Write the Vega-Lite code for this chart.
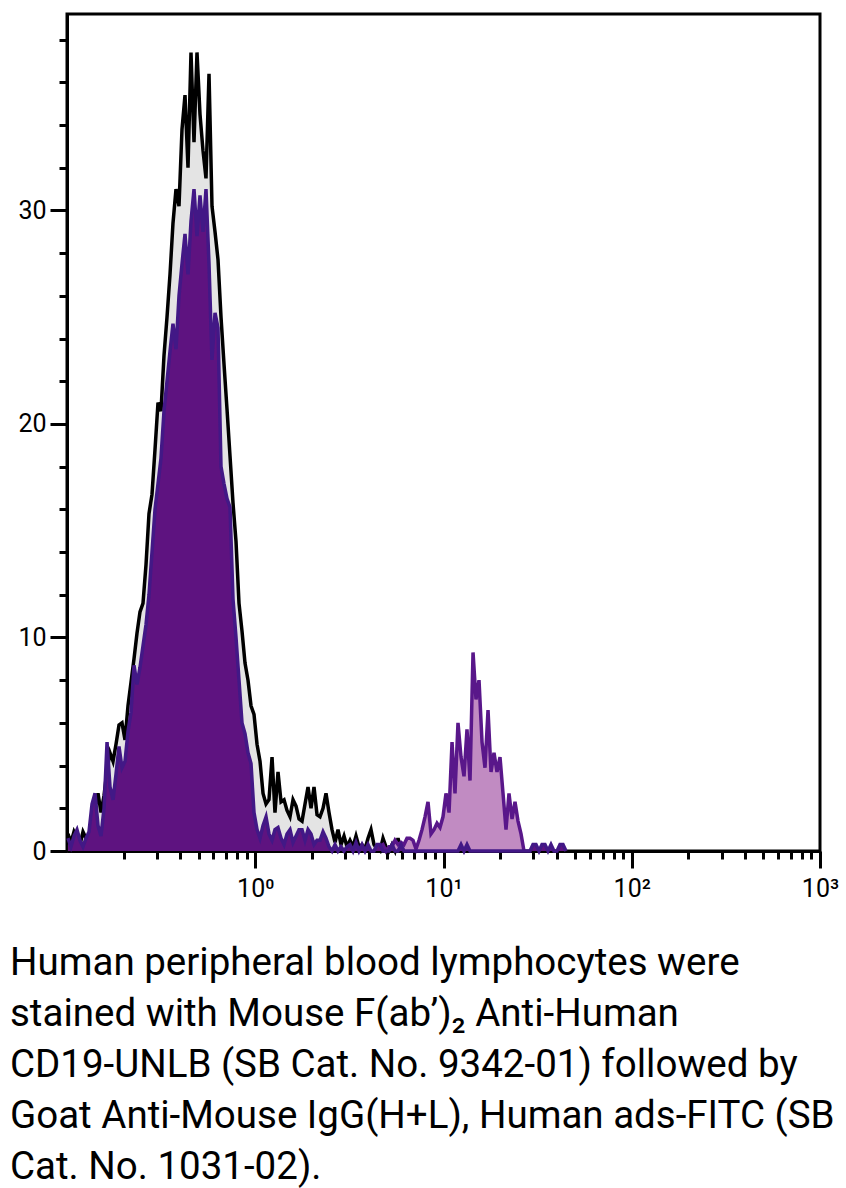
{
  "$schema": "https://vega.github.io/schema/vega-lite/v6.json",
  "width": 753,
  "height": 837,
  "autosize": {"type": "none"},
  "padding": {"left": 67, "top": 14, "right": 26, "bottom": 337},
  "background": "white",
  "config": {
    "view": {"stroke": "black", "strokeWidth": 3},
    "axis": {"grid": false, "title": null, "domainColor": "black", "domainWidth": 3, "tickColor": "black", "tickWidth": 3, "labelColor": "black", "labelFont": "Roboto", "labelFontSize": 25, "zindex": 1}
  },
  "title": {
    "text": [
      "Human peripheral blood lymphocytes were",
      "stained with Mouse F(ab’)₂ Anti-Human",
      "CD19-UNLB (SB Cat. No. 9342-01) followed by",
      "Goat Anti-Mouse IgG(H+L), Human ads-FITC (SB",
      "Cat. No. 1031-02)."
    ],
    "orient": "bottom",
    "anchor": "start",
    "frame": "group",
    "dx": -57,
    "offset": 44,
    "font": "Roboto",
    "fontSize": 38.5,
    "fontWeight": "normal",
    "lineHeight": 51,
    "color": "black",
    "baseline": "top"
  },
  "data": {
    "values": [
      {"x": 0.1012, "c": 0.8, "n": 0.6},
      {"x": 0.1050, "c": 0.4, "n": 0.2},
      {"x": 0.1089, "c": 0.9, "n": 0.7},
      {"x": 0.1130, "c": 0.6, "n": 1.0},
      {"x": 0.1172, "c": 0.3, "n": 0.5},
      {"x": 0.1216, "c": 0.9, "n": 0.2},
      {"x": 0.1262, "c": 0.6, "n": 0.6},
      {"x": 0.1309, "c": 0.3, "n": 0.9},
      {"x": 0.1358, "c": 1.2, "n": 2.2},
      {"x": 0.1409, "c": 2.0, "n": 2.7},
      {"x": 0.1461, "c": 2.7, "n": 1.2},
      {"x": 0.1516, "c": 1.8, "n": 0.7},
      {"x": 0.1573, "c": 2.6, "n": 2.0},
      {"x": 0.1632, "c": 3.8, "n": 5.1},
      {"x": 0.1692, "c": 4.6, "n": 3.0},
      {"x": 0.1756, "c": 4.2, "n": 2.4},
      {"x": 0.1821, "c": 5.0, "n": 3.6},
      {"x": 0.1889, "c": 5.9, "n": 4.9},
      {"x": 0.1960, "c": 6.0, "n": 3.9},
      {"x": 0.2033, "c": 5.2, "n": 4.2},
      {"x": 0.2109, "c": 6.8, "n": 5.6},
      {"x": 0.2188, "c": 7.9, "n": 6.5},
      {"x": 0.2270, "c": 9.0, "n": 8.7},
      {"x": 0.2354, "c": 10.2, "n": 7.8},
      {"x": 0.2442, "c": 11.2, "n": 8.6},
      {"x": 0.2533, "c": 11.6, "n": 9.6},
      {"x": 0.2628, "c": 13.4, "n": 10.6},
      {"x": 0.2726, "c": 15.8, "n": 12.0},
      {"x": 0.2828, "c": 16.7, "n": 14.0},
      {"x": 0.2934, "c": 18.8, "n": 16.0},
      {"x": 0.3044, "c": 21.0, "n": 17.2},
      {"x": 0.3157, "c": 20.6, "n": 18.4},
      {"x": 0.3275, "c": 23.2, "n": 20.6},
      {"x": 0.3398, "c": 25.0, "n": 22.0},
      {"x": 0.3525, "c": 27.0, "n": 23.4},
      {"x": 0.3656, "c": 29.4, "n": 24.7},
      {"x": 0.3793, "c": 31.0, "n": 23.5},
      {"x": 0.3935, "c": 30.2, "n": 26.0},
      {"x": 0.4082, "c": 33.8, "n": 27.5},
      {"x": 0.4235, "c": 35.4, "n": 28.9},
      {"x": 0.4393, "c": 32.0, "n": 27.0},
      {"x": 0.4557, "c": 37.4, "n": 29.5},
      {"x": 0.4728, "c": 33.2, "n": 31.0},
      {"x": 0.4904, "c": 37.4, "n": 28.8},
      {"x": 0.5088, "c": 34.5, "n": 30.7},
      {"x": 0.5278, "c": 32.8, "n": 29.0},
      {"x": 0.5475, "c": 31.5, "n": 31.0},
      {"x": 0.5680, "c": 36.4, "n": 27.5},
      {"x": 0.5892, "c": 30.2, "n": 23.0},
      {"x": 0.6113, "c": 29.0, "n": 25.2},
      {"x": 0.6341, "c": 27.7, "n": 24.5},
      {"x": 0.6578, "c": 25.0, "n": 18.0},
      {"x": 0.6824, "c": 22.8, "n": 17.2},
      {"x": 0.7079, "c": 20.7, "n": 16.5},
      {"x": 0.7344, "c": 18.5, "n": 16.1},
      {"x": 0.7618, "c": 16.3, "n": 11.8},
      {"x": 0.7903, "c": 14.5, "n": 10.0},
      {"x": 0.8199, "c": 11.6, "n": 8.0},
      {"x": 0.8505, "c": 10.3, "n": 6.0},
      {"x": 0.8823, "c": 8.8, "n": 5.5},
      {"x": 0.9153, "c": 8.0, "n": 4.6},
      {"x": 0.9495, "c": 6.8, "n": 4.1},
      {"x": 0.9850, "c": 6.4, "n": 1.8},
      {"x": 1.022, "c": 5.0, "n": 1.0},
      {"x": 1.060, "c": 4.2, "n": 0.6},
      {"x": 1.100, "c": 2.7, "n": 1.2},
      {"x": 1.141, "c": 2.2, "n": 1.6},
      {"x": 1.183, "c": 2.4, "n": 0.8},
      {"x": 1.228, "c": 4.4, "n": 0.5},
      {"x": 1.273, "c": 1.8, "n": 1.0},
      {"x": 1.321, "c": 3.7, "n": 1.1},
      {"x": 1.371, "c": 2.3, "n": 0.6},
      {"x": 1.422, "c": 2.4, "n": 0.3},
      {"x": 1.475, "c": 1.9, "n": 0.8},
      {"x": 1.530, "c": 1.6, "n": 1.0},
      {"x": 1.587, "c": 2.4, "n": 0.4},
      {"x": 1.647, "c": 2.1, "n": 0.7},
      {"x": 1.708, "c": 1.5, "n": 1.0},
      {"x": 1.772, "c": 1.4, "n": 1.0},
      {"x": 1.838, "c": 2.2, "n": 0.5},
      {"x": 1.907, "c": 3.0, "n": 1.0},
      {"x": 1.978, "c": 2.0, "n": 0.8},
      {"x": 2.052, "c": 3.0, "n": 0.3},
      {"x": 2.129, "c": 1.7, "n": 0.5},
      {"x": 2.208, "c": 1.6, "n": 0.5},
      {"x": 2.291, "c": 2.0, "n": 0.9},
      {"x": 2.376, "c": 2.7, "n": 0.6},
      {"x": 2.465, "c": 1.8, "n": 0.2},
      {"x": 2.557, "c": 1.0, "n": 0.0},
      {"x": 2.653, "c": 0.4, "n": 0.3},
      {"x": 2.752, "c": 1.0, "n": 0.0},
      {"x": 2.855, "c": 0.3, "n": 0.2},
      {"x": 2.962, "c": 0.7, "n": 0.0},
      {"x": 3.072, "c": 0.2, "n": 0.2},
      {"x": 3.187, "c": 0.5, "n": 0.3},
      {"x": 3.306, "c": 0.2, "n": 0.0},
      {"x": 3.430, "c": 0.7, "n": 0.4},
      {"x": 3.558, "c": 0.2, "n": 0.0},
      {"x": 3.691, "c": 0.3, "n": 0.3},
      {"x": 3.829, "c": 0.1, "n": 0.0},
      {"x": 3.972, "c": 0.6, "n": 0.3},
      {"x": 4.120, "c": 1.0, "n": 0.0},
      {"x": 4.274, "c": 0.3, "n": 0.0},
      {"x": 4.434, "c": 0.1, "n": 0.3},
      {"x": 4.600, "c": 0.0, "n": 0.3, "p": 0.2},
      {"x": 4.772, "c": 0.6, "n": 0.0, "p": 0.3},
      {"x": 4.950, "c": 0.2, "n": 0.0, "p": 0.0},
      {"x": 5.135, "c": 0.0, "n": 0.0, "p": 0.2},
      {"x": 5.327, "c": 0.3, "n": 0.3, "p": 0.2},
      {"x": 5.526, "c": 0.0, "n": 0.0, "p": 0.5},
      {"x": 5.733, "c": 0.6, "n": 0.0, "p": 0.3},
      {"x": 5.947, "c": 0.0, "n": 0.3, "p": 0.4},
      {"x": 6.169, "c": 0.0, "n": 0.0, "p": 0.3},
      {"x": 6.400, "n": 0.0, "p": 0.6},
      {"x": 6.639, "n": 0.0, "p": 0.6},
      {"x": 6.887, "n": 0.0, "p": 0.5},
      {"x": 7.145, "n": 0.0, "p": 0.1},
      {"x": 7.412, "n": 0.0, "p": 0.5},
      {"x": 7.689, "n": 0.0, "p": 1.0},
      {"x": 7.976, "n": 0.0, "p": 1.6},
      {"x": 8.274, "n": 0.0, "p": 2.3},
      {"x": 8.583, "n": 0.0, "p": 0.8},
      {"x": 8.904, "n": 0.0, "p": 1.0},
      {"x": 9.237, "n": 0.0, "p": 1.3},
      {"x": 9.582, "n": 0.0, "p": 1.1},
      {"x": 9.939, "n": 0.0, "p": 1.6},
      {"x": 10.31, "n": 0.0, "p": 2.7},
      {"x": 10.70, "n": 0.0, "p": 1.8},
      {"x": 11.10, "n": 0.0, "p": 5.1},
      {"x": 11.51, "n": 0.0, "p": 2.7},
      {"x": 11.94, "n": 0.0, "p": 6.0},
      {"x": 12.39, "n": 0.3, "p": 4.4},
      {"x": 12.85, "n": 0.0, "p": 3.5},
      {"x": 13.33, "n": 0.3, "p": 5.7},
      {"x": 13.83, "n": 0.0, "p": 3.3},
      {"x": 14.35, "n": 0.0, "p": 9.3},
      {"x": 14.88, "n": 0.0, "p": 7.1},
      {"x": 15.44, "n": 0.0, "p": 8.0},
      {"x": 16.02, "n": 0.0, "p": 5.1},
      {"x": 16.61, "n": 0.0, "p": 3.9},
      {"x": 17.24, "n": 0.0, "p": 6.6},
      {"x": 17.88, "n": 0.0, "p": 3.7},
      {"x": 18.55, "n": 0.0, "p": 4.6},
      {"x": 19.24, "n": 0.0, "p": 3.7},
      {"x": 19.96, "n": 0.0, "p": 4.4},
      {"x": 20.71, "n": 0.0, "p": 2.7},
      {"x": 21.48, "n": 0.0, "p": 1.0},
      {"x": 22.28, "n": 0.0, "p": 2.7},
      {"x": 23.12, "n": 0.0, "p": 1.5},
      {"x": 23.98, "n": 0.0, "p": 2.3},
      {"x": 24.88, "n": 0.0, "p": 1.4},
      {"x": 25.81, "n": 0.0, "p": 0.8},
      {"x": 26.77, "n": 0.0, "p": 0.0},
      {"x": 27.77, "n": 0.0},
      {"x": 28.81, "n": 0.0},
      {"x": 29.88, "n": 0.3},
      {"x": 31.00, "n": 0.3},
      {"x": 32.16, "n": 0.0},
      {"x": 33.36, "n": 0.3},
      {"x": 34.60, "n": 0.3},
      {"x": 35.90, "n": 0.0},
      {"x": 37.24, "n": 0.3},
      {"x": 38.63, "n": 0.0},
      {"x": 40.08, "n": 0.0},
      {"x": 41.57, "n": 0.3},
      {"x": 43.13, "n": 0.3},
      {"x": 44.75, "n": 0.0}
    ]
  },
  "layer": [
    {
      "mark": {"type": "area", "color": "#e4e4e4", "opacity": 1},
      "encoding": {
        "x": {"field": "x", "type": "quantitative", "scale": {"type": "log", "domain": [0.1, 1000], "nice": false},
          "axis": {"orient": "bottom", "values": [0.2, 0.3, 0.4, 0.5, 0.6, 0.7, 0.8, 0.9, 2, 3, 4, 5, 6, 7, 8, 9, 20, 30, 40, 50, 60, 70, 80, 90, 200, 300, 400, 500, 600, 700, 800, 900], "tickSize": 8, "labels": false}},
        "y": {"field": "c", "type": "quantitative", "scale": {"domain": [0, 39.2], "nice": false},
          "axis": {"orient": "left", "values": [2, 4, 6, 8, 12, 14, 16, 18, 22, 24, 26, 28, 32, 34, 36, 38], "tickSize": 8, "labels": false}}
      }
    },
    {
      "mark": {"type": "line", "color": "black", "strokeWidth": 3.5},
      "encoding": {
        "x": {"field": "x", "type": "quantitative", "scale": {"type": "log", "domain": [0.1, 1000], "nice": false},
          "axis": {"orient": "bottom", "values": [1, 10, 100, 1000], "tickSize": 17, "labelPadding": 8, "labelFlush": false, "labelOverlap": false,
            "labelExpr": "datum.value == 1 ? '10⁰' : datum.value == 10 ? '10¹' : datum.value == 100 ? '10²' : '10³'"}},
        "y": {"field": "c", "type": "quantitative", "scale": {"domain": [0, 39.2], "nice": false},
          "axis": {"orient": "left", "values": [0, 10, 20, 30], "tickSize": 17, "labelPadding": 4, "labelFlush": false}}
      }
    },
    {
      "mark": {"type": "area", "color": "#c18bc2", "opacity": 1},
      "encoding": {
        "x": {"field": "x", "type": "quantitative", "scale": {"type": "log", "domain": [0.1, 1000], "nice": false}, "axis": null},
        "y": {"field": "p", "type": "quantitative", "scale": {"domain": [0, 39.2], "nice": false}, "axis": null}
      }
    },
    {
      "mark": {"type": "line", "color": "#59178a", "strokeWidth": 3.5},
      "encoding": {
        "x": {"field": "x", "type": "quantitative", "scale": {"type": "log", "domain": [0.1, 1000], "nice": false}, "axis": null},
        "y": {"field": "p", "type": "quantitative", "scale": {"domain": [0, 39.2], "nice": false}, "axis": null}
      }
    },
    {
      "mark": {"type": "area", "color": "#5e1380", "opacity": 1},
      "encoding": {
        "x": {"field": "x", "type": "quantitative", "scale": {"type": "log", "domain": [0.1, 1000], "nice": false}, "axis": null},
        "y": {"field": "n", "type": "quantitative", "scale": {"domain": [0, 39.2], "nice": false}, "axis": null}
      }
    },
    {
      "mark": {"type": "line", "color": "#421886", "strokeWidth": 3.5},
      "encoding": {
        "x": {"field": "x", "type": "quantitative", "scale": {"type": "log", "domain": [0.1, 1000], "nice": false}, "axis": null},
        "y": {"field": "n", "type": "quantitative", "scale": {"domain": [0, 39.2], "nice": false}, "axis": null}
      }
    }
  ],
  "resolve": {"axis": {"x": "independent", "y": "independent"}}
}
